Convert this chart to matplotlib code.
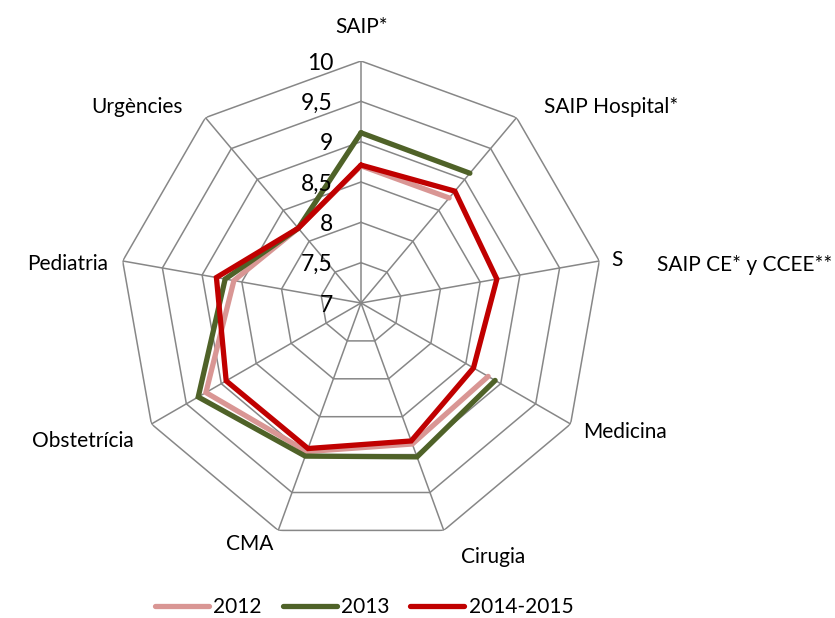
import numpy as np
import matplotlib
matplotlib.use("Agg")
import matplotlib.pyplot as plt

plt.rcParams['font.family'] = ['Lato', 'DejaVu Sans']

categories = ["SAIP*", "SAIP Hospital*", "SAIP CE* y CCEE**", "Medicina", "Cirugia",
              "CMA", "Obstetrícia", "Pediatria", "Urgències"]
series_names = ["2012", "2013", "2014-2015"]
v2012 = [8.70, 8.70, np.nan, 8.82, 8.86, 8.96, 9.22, 8.60, 8.21]
v2013 = [9.11, 9.10, np.nan, 8.92, 9.03, 9.02, 9.33, 8.71, 8.21]
v2015 = [8.71, 8.81, 8.71, 8.61, 8.82, 8.92, 8.93, 8.82, 8.21]
ring_values = [7, 7.5, 8, 8.5, 9, 9.5, 10]
ring_labels = ["7", "7,5", "8", "8,5", "9", "9,5", "10"]

colors = ["#D99694", "#4F6228", "#C00000"]
grid_color = "#878787"

W, H = 835, 618
fig = plt.figure(figsize=(W / 100, H / 100), dpi=100)
cx, cy, R = 361, 303, 242
ax = fig.add_axes([(cx - R) / W, (H - cy - R) / H, 2 * R / W, 2 * R / H], projection='polar')
ax.set_theta_zero_location('N')
ax.set_theta_direction(-1)
ax.set_ylim(7, 10)
ax.grid(False)
ax.spines['polar'].set_visible(False)
ax.set_xticks([])
ax.set_yticks([])
ax.patch.set_alpha(0)

n = len(categories)
theta = np.arange(n) * 2 * np.pi / n
theta_c = np.append(theta, theta[0])

# polygon rings
for rv in ring_values[1:]:
    ax.plot(theta_c, [rv] * (n + 1), color=grid_color, lw=1.1, zorder=1)
# spokes
for t in theta:
    ax.plot([t, t], [7, 10], color=grid_color, lw=1.1, zorder=1)

# series
for vals, c, name in zip([v2012, v2013, v2015], colors, series_names):
    vv = np.append(vals, vals[0])
    ax.plot(theta_c, vv, color=c, lw=3.8, solid_capstyle='round',
            solid_joinstyle='miter', label=name, zorder=3)

# ring tick labels
for rv, lab in zip(ring_values, ring_labels):
    ypix = cy - (rv - 7) / 3 * R
    fig.text(333 / W, 1 - (ypix + 2) / H, lab, ha='right', va='center', fontsize=16.5)

# category labels (pixel centers)
label_pos = [(362, 27), (611, 107), (745, 265), (625, 432), (493, 557),
             (250, 544), (83, 441), (68, 264), (137, 107)]
for lab, (x, y) in zip(categories, label_pos):
    fig.text(x / W, 1 - y / H, lab, ha='center', va='center', fontsize=15)
fig.text(617 / W, 1 - 260 / H, "S", ha='center', va='center', fontsize=15)

# legend
handles, labels = ax.get_legend_handles_labels()
fig.legend(handles, labels, loc='center', bbox_to_anchor=(364 / W, 1 - 607 / H),
           ncol=3, frameon=False, fontsize=15, handlelength=2.6, handletextpad=0.2,
           columnspacing=1.0)

fig.savefig("out.png", dpi=100)
